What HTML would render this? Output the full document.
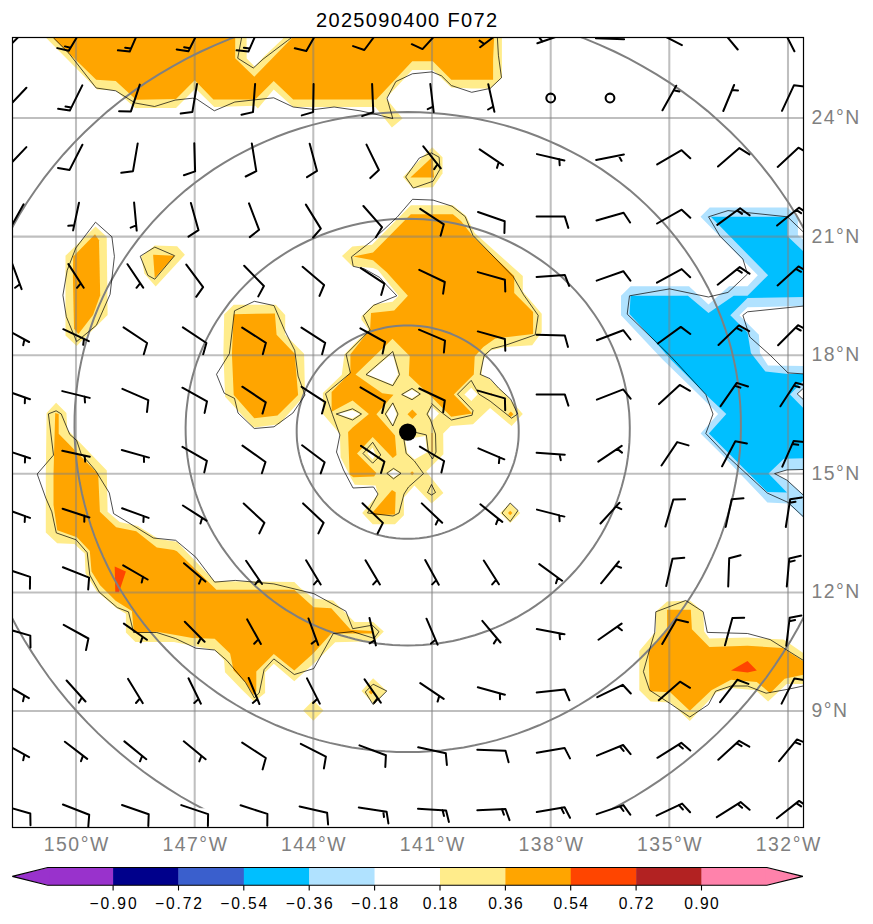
<!DOCTYPE html><html><head><meta charset="utf-8"><style>html,body{margin:0;padding:0;background:#fff}svg{display:block}text{font-family:"Liberation Sans",sans-serif}</style></head><body>
<svg width="873" height="924" viewBox="0 0 873 924">
<rect width="873" height="924" fill="#fff"/>
<defs><clipPath id="ax"><rect x="12.5" y="37.5" width="791.0" height="790.0"/></clipPath><clipPath id="ring"><rect x="0" y="0" width="873" height="808.3"/></clipPath></defs>
<g clip-path="url(#ax)">
<path d="M46.0 30.0 L46.0 37.8 L97.2 89.4 L115.7 90.4 L135.2 107.9 L176.0 107.9 L195.5 88.4 L197.0 90.0 L214.3 107.0 L255.2 105.8 L257.9 108.6 L273.7 89.5 L293.2 107.0 L311.3 107.0 L375.3 106.9 L391.9 127.4 L402.6 118.6 L386.0 98.2 L412.3 69.9 L432.8 69.9 L451.3 87.4 L471.7 88.4 L490.2 88.4 L501.9 77.7 L501.9 30.0Z" fill="#FFEC8B"/>
<path d="M403.0 177.0 L432.2 147.2 L442.5 157.2 L442.5 173.5 L433.0 187.2 L412.5 188.1Z" fill="#FFEC8B"/>
<path d="M342.0 256.0 L352.3 246.5 L372.0 244.8 L410.8 205.3 L452.9 205.3 L466.0 215.8 L474.7 233.0 L522.8 275.9 L522.8 291.4 L541.7 313.7 L541.7 332.3 L532.2 345.2 L505.6 347.0 L490.1 350.4 L483.3 359.8 L481.5 374.4 L490.1 379.6 L505.6 394.2 L522.8 414.0 L511.6 426.0 L490.1 408.0 L473.0 424.3 L450.7 426.0 L443.2 433.6 L443.4 454.3 L426.3 471.4 L443.4 493.0 L431.5 503.4 L414.4 485.5 L403.9 497.4 L403.9 515.3 L395.0 524.2 L372.7 524.2 L362.2 513.1 L377.9 494.5 L375.6 485.5 L354.8 484.8 L351.0 478.0 L340.6 457.2 L339.9 434.0 L322.9 414.0 L322.9 392.9 L341.8 374.8 L344.4 354.2 L368.4 329.3 L361.5 319.8 L361.5 316.4 L373.6 304.4 L392.5 301.8 L398.5 295.8 L377.9 270.0 L373.0 268.0 L352.3 266.3Z" fill="#FFEC8B"/>
<path d="M500.2 513.0 L510.2 503.0 L520.2 513.0 L510.2 523.0Z" fill="#FFEC8B"/>
<path d="M65.5 255.7 L95.5 226.5 L106.7 236.8 L107.6 315.0 L76.6 345.9 L65.5 335.6Z" fill="#FFEC8B"/>
<path d="M141.1 256.5 L154.8 245.4 L177.1 246.2 L184.9 254.8 L155.7 286.6 L144.5 273.7Z" fill="#FFEC8B"/>
<path d="M224.2 314.2 L233.7 304.8 L275.8 304.8 L285.2 315.1 L285.2 334.8 L304.1 353.7 L305.0 395.0 L279.2 424.2 L253.4 427.6 L225.1 396.7 L223.4 353.7Z" fill="#FFEC8B"/>
<path d="M46.6 413.0 L56.1 402.7 L66.4 413.0 L67.3 429.4 L106.8 470.6 L107.6 511.8 L119.7 522.1 L137.9 526.0 L158.6 538.9 L176.9 541.7 L214.7 581.2 L294.3 582.0 L300.1 587.8 L313.7 598.5 L333.2 600.4 L354.6 621.9 L373.1 621.9 L383.8 631.6 L374.1 641.3 L335.2 642.3 L315.7 661.8 L294.3 681.3 L273.8 663.7 L265.1 672.5 L265.1 693.0 L254.3 701.7 L242.2 690.0 L225.0 672.3 L224.1 660.3 L214.7 650.0 L192.3 645.7 L174.0 642.0 L135.4 642.0 L125.9 632.5 L125.9 613.7 L115.6 607.6 L96.7 591.3 L85.5 573.3 L84.7 553.5 L74.4 544.1 L57.2 543.2 L45.8 532.5 L45.8 474.0Z" fill="#FFEC8B"/>
<path d="M303.1 710.5 L313.3 700.3 L323.5 710.5 L313.3 720.7Z" fill="#FFEC8B"/>
<path d="M361.5 691.0 L373.1 678.3 L386.8 691.0 L374.1 704.6Z" fill="#FFEC8B"/>
<path d="M655.8 611.8 L667.1 601.5 L689.8 600.5 L703.2 611.8 L704.2 631.4 L709.4 638.6 L747.5 637.6 L783.6 639.6 L803.2 653.0 L810.0 653.0 L810.0 684.0 L786.7 684.0 L768.1 701.5 L755.8 690.2 L731.0 688.1 L716.6 692.2 L689.8 721.1 L670.2 702.5 L650.6 701.5 L639.3 690.2 L639.3 651.0 L655.8 631.4Z" fill="#FFEC8B"/>
<path d="M53.0 30.0 L53.0 37.8 L96.2 79.7 L115.7 81.0 L136.1 99.7 L176.0 99.1 L194.7 80.2 L213.4 99.5 L255.2 99.5 L273.7 81.0 L293.2 99.5 L376.3 99.5 L412.3 61.2 L432.8 61.2 L451.3 79.7 L493.1 79.7 L493.1 59.2 L494.5 30.0 L292.2 30.0 L292.2 37.8 L254.3 76.7 L235.2 58.2 L235.2 30.0Z" fill="#FFA500"/>
<path d="M410.4 177.5 L432.6 156.8 L434.0 177.5Z" fill="#FFA500"/>
<path d="M353.2 256.5 L373.0 252.5 L410.8 214.2 L452.9 214.2 L461.0 221.0 L473.0 236.4 L514.2 275.9 L514.2 293.1 L533.1 312.0 L533.1 334.0 L495.3 338.4 L483.3 346.9 L474.7 356.4 L473.8 374.4 L453.8 394.5 L472.3 413.6 L451.2 416.7 L431.1 396.6 L408.9 375.5 L409.7 355.9 L392.5 338.7 L355.5 374.6 L382.3 393.2 L393.5 394.7 L376.4 414.3 L395.0 435.6 L396.5 455.0 L392.8 458.0 L372.7 437.1 L357.0 453.5 L376.4 472.9 L374.1 476.6 L353.3 477.3 L349.6 474.4 L348.1 431.9 L352.6 427.4 L368.9 414.0 L352.6 400.6 L331.6 411.8 L331.6 392.0 L350.4 372.5 L350.4 354.2 L370.1 329.3 L371.0 313.0 L394.2 310.4 L407.9 295.8 L386.7 272.3 L373.0 260.3Z" fill="#FFA500"/>
<path d="M372.7 512.3 L392.0 490.0 L395.7 492.2 L395.0 514.6 L374.1 515.3Z" fill="#FFA500"/>
<path d="M407.5 414.3 L412.3 409.5 L417.1 414.3 L412.3 419.1Z" fill="#FFA500"/>
<path d="M508.1 414.3 L510.8 411.6 L513.5 414.3 L510.8 417.0Z" fill="#FFA500"/>
<path d="M410.1 473.3 L412.1 471.3 L414.1 473.3 L412.1 475.3Z" fill="#FFA500"/>
<path d="M490.1 394.2 L491.3 393.0 L492.5 394.2 L491.3 395.4Z" fill="#FFA500"/>
<path d="M508.0 513.0 L510.2 510.8 L512.4 513.0 L510.2 515.2Z" fill="#FFA500"/>
<path d="M368.6 692.0 L371.2 689.4 L373.8 692.0 L371.2 694.6Z" fill="#FFA500"/>
<path d="M431.3 433.0 L432.8 433.0 L432.8 452.0 L431.3 452.0Z" fill="#FFA500"/>
<path d="M73.2 256.5 L95.0 234.2 L99.0 240.2 L100.2 295.2 L93.0 315.0 L78.4 333.9 L74.0 328.7 L72.9 277.2Z" fill="#FFA500"/>
<path d="M153.1 254.8 L174.6 255.7 L154.8 278.0Z" fill="#FFA500"/>
<path d="M233.7 314.2 L274.9 313.4 L276.6 334.8 L294.7 353.7 L298.1 395.0 L277.5 415.6 L254.3 418.2 L233.7 395.0 L231.9 353.7Z" fill="#FFA500"/>
<path d="M55.2 413.0 L58.7 413.9 L58.7 433.7 L98.2 474.0 L99.9 511.8 L116.2 527.3 L136.2 531.2 L156.8 547.5 L174.0 550.0 L176.9 551.2 L216.4 589.8 L294.3 589.7 L313.7 607.3 L331.3 608.2 L350.7 629.7 L372.2 631.0 L372.2 633.6 L331.3 633.6 L313.7 653.0 L294.3 670.6 L273.8 654.0 L256.3 671.5 L256.3 691.0 L253.4 694.9 L245.6 682.6 L233.6 670.6 L230.1 653.4 L214.7 638.8 L192.3 638.0 L175.7 635.1 L156.8 631.7 L137.9 632.5 L133.6 630.0 L131.9 611.1 L115.6 600.8 L100.1 585.3 L91.5 571.5 L89.8 550.9 L76.9 537.2 L57.2 530.3 L53.5 505.0 L53.5 474.0Z" fill="#FFA500"/>
<path d="M667.1 609.7 L690.8 609.7 L691.9 629.3 L709.4 646.9 L747.5 645.8 L782.6 647.9 L803.2 661.3 L810.0 661.3 L810.0 674.7 L803.2 674.7 L784.6 678.8 L770.2 693.2 L756.8 681.9 L731.0 679.8 L711.4 690.2 L689.8 710.8 L670.2 692.2 L649.6 691.2 L648.6 651.0 L667.1 629.3Z" fill="#FFA500"/>
<path d="M114.7 566.4 L125.9 571.5 L119.0 592.2 L115.3 592.2Z" fill="#FF4500"/>
<path d="M731.0 670.6 L747.5 660.9 L756.8 670.6 L747.5 672.6Z" fill="#FF4500"/>
<path d="M709.7 207.6 L787.5 207.6 L797.9 217.9 L797.9 235.1 L810.0 246.0 L810.0 525.0 L803.4 517.8 L788.0 503.4 L767.4 502.4 L722.2 455.1 L700.6 433.5 L718.1 414.0 L699.6 395.5 L662.6 359.5 L648.9 345.1 L621.0 315.3 L621.0 295.8 L630.6 286.2 L689.0 286.2 L708.5 304.5 L729.1 286.2 L747.5 286.2 L757.8 275.2 L700.5 216.8Z" fill="#B0E2FF"/>
<path d="M710.8 216.8 L787.5 216.8 L787.5 236.2 L803.0 251.1 L810.0 251.1 L810.0 297.0 L747.5 298.1 L730.3 315.3 L747.5 332.5 L750.9 353.1 L765.4 371.5 L788.0 373.9 L810.0 373.9 L810.0 381.1 L803.0 381.1 L790.0 394.5 L803.0 407.8 L810.0 407.8 L810.0 458.2 L783.9 458.8 L768.5 473.6 L787.0 492.5 L767.4 492.1 L728.4 453.1 L708.9 433.5 L726.3 414.0 L707.8 396.5 L670.8 359.5 L658.1 345.1 L629.5 314.1 L630.6 295.8 L687.9 295.8 L708.5 313.0 L733.7 295.8 L747.5 295.8 L768.1 275.2Z" fill="#00BFFF"/>
<path d="M246.5 31.0 L246.7 58.4 L254.8 66.7 L263.0 57.4 L283.1 38.4 L283.3 30.9Z" fill="#FFFFFF"/>
<path d="M367.4 374.4 L392.5 352.9 L398.1 374.2 L392.3 384.4Z" fill="#FFFFFF"/>
<path d="M403.1 394.4 L411.9 389.8 L418.9 394.0 L411.9 398.3Z" fill="#FFFFFF"/>
<path d="M337.6 414.0 L352.1 410.2 L360.1 414.0 L352.2 418.6Z" fill="#FFFFFF"/>
<path d="M386.7 414.0 L392.7 404.3 L396.6 414.1 L392.7 424.6Z" fill="#FFFFFF"/>
<path d="M428.4 414.0 L431.8 406.8 L439.0 413.6 L432.7 420.5Z" fill="#FFFFFF"/>
<path d="M464.4 394.5 L471.3 387.7 L477.6 394.5 L471.3 400.9Z" fill="#FFFFFF"/>
<path d="M405.1 440.1 L414.6 437.8 L425.3 435.9 L427.2 452.2 L414.5 459.6 L407.3 452.6Z" fill="#FFFFFF"/>
<path d="M367.4 453.6 L372.6 447.4 L375.7 454.7 L372.6 459.6Z" fill="#FFFFFF"/>
<path d="M388.2 473.3 L393.6 469.8 L399.6 473.3 L393.6 477.4Z" fill="#FFFFFF"/>
<path d="M810.0 306.0 L747.5 307.3 L739.4 315.3 L758.9 334.7 L760.0 353.1 L768.0 365.5 L810.0 366.0Z" fill="#FFFFFF"/>
<path d="M810.0 388.3 L803.0 388.3 L797.2 393.9 L803.0 399.6 L810.0 399.6Z" fill="#FFFFFF"/>
<path d="M774.6 473.6 L787.0 469.9 L810.0 469.9 L810.0 494.2 L803.0 494.2 L787.0 480.2Z" fill="#FFFFFF"/>
<line x1="76.0" y1="37.5" x2="76.0" y2="827.5" stroke="#808080" stroke-width="2.05" stroke-opacity="0.5"/>
<line x1="194.7" y1="37.5" x2="194.7" y2="827.5" stroke="#808080" stroke-width="2.05" stroke-opacity="0.5"/>
<line x1="313.3" y1="37.5" x2="313.3" y2="827.5" stroke="#808080" stroke-width="2.05" stroke-opacity="0.5"/>
<line x1="432.0" y1="37.5" x2="432.0" y2="827.5" stroke="#808080" stroke-width="2.05" stroke-opacity="0.5"/>
<line x1="550.7" y1="37.5" x2="550.7" y2="827.5" stroke="#808080" stroke-width="2.05" stroke-opacity="0.5"/>
<line x1="669.3" y1="37.5" x2="669.3" y2="827.5" stroke="#808080" stroke-width="2.05" stroke-opacity="0.5"/>
<line x1="788.0" y1="37.5" x2="788.0" y2="827.5" stroke="#808080" stroke-width="2.05" stroke-opacity="0.5"/>
<line x1="12.5" y1="711.0" x2="803.5" y2="711.0" stroke="#808080" stroke-width="2.05" stroke-opacity="0.5"/>
<line x1="12.5" y1="592.4" x2="803.5" y2="592.4" stroke="#808080" stroke-width="2.05" stroke-opacity="0.5"/>
<line x1="12.5" y1="473.8" x2="803.5" y2="473.8" stroke="#808080" stroke-width="2.05" stroke-opacity="0.5"/>
<line x1="12.5" y1="355.2" x2="803.5" y2="355.2" stroke="#808080" stroke-width="2.05" stroke-opacity="0.5"/>
<line x1="12.5" y1="236.6" x2="803.5" y2="236.6" stroke="#808080" stroke-width="2.05" stroke-opacity="0.5"/>
<line x1="12.5" y1="118.0" x2="803.5" y2="118.0" stroke="#808080" stroke-width="2.05" stroke-opacity="0.5"/>
<path d="M407.7 325.4 L411.6 325.5 L415.6 325.7 L419.5 326.0 L423.4 326.5 L427.3 327.1 L431.1 327.8 L434.9 328.7 L438.7 329.6 L442.5 330.7 L446.2 332.0 L449.9 333.3 L453.5 334.8 L457.0 336.4 L460.5 338.1 L463.9 339.9 L467.3 341.9 L470.5 343.9 L473.7 346.1 L476.8 348.3 L479.9 350.7 L482.8 353.2 L485.6 355.7 L488.4 358.4 L491.0 361.1 L493.5 364.0 L496.0 366.9 L498.3 369.9 L500.5 373.0 L502.6 376.1 L504.5 379.3 L506.4 382.6 L508.1 385.9 L509.7 389.3 L511.2 392.8 L512.5 396.3 L513.8 399.8 L514.8 403.4 L515.8 407.0 L516.6 410.6 L517.3 414.3 L517.9 418.0 L518.3 421.7 L518.6 425.4 L518.7 429.1 L518.7 432.8 L518.6 436.5 L518.4 440.3 L518.0 444.0 L517.5 447.6 L516.8 451.3 L516.0 455.0 L515.1 458.6 L514.1 462.2 L512.9 465.7 L511.6 469.2 L510.2 472.7 L508.6 476.1 L506.9 479.4 L505.1 482.7 L503.2 486.0 L501.2 489.1 L499.1 492.2 L496.9 495.2 L494.5 498.2 L492.1 501.1 L489.5 503.8 L486.9 506.5 L484.1 509.2 L481.3 511.7 L478.4 514.1 L475.4 516.4 L472.3 518.6 L469.1 520.7 L465.9 522.7 L462.6 524.6 L459.2 526.4 L455.8 528.1 L452.3 529.6 L448.8 531.1 L445.2 532.4 L441.6 533.6 L437.9 534.7 L434.2 535.6 L430.5 536.5 L426.7 537.2 L423.0 537.7 L419.2 538.2 L415.3 538.5 L411.5 538.7 L407.7 538.8 L403.9 538.7 L400.1 538.5 L396.2 538.2 L392.4 537.7 L388.7 537.2 L384.9 536.5 L381.2 535.6 L377.5 534.7 L373.8 533.6 L370.2 532.4 L366.6 531.1 L363.1 529.6 L359.6 528.1 L356.2 526.4 L352.8 524.6 L349.5 522.7 L346.3 520.7 L343.1 518.6 L340.0 516.4 L337.0 514.1 L334.1 511.7 L331.3 509.2 L328.5 506.5 L325.9 503.8 L323.3 501.1 L320.9 498.2 L318.5 495.2 L316.3 492.2 L314.2 489.1 L312.2 486.0 L310.3 482.7 L308.5 479.4 L306.8 476.1 L305.2 472.7 L303.8 469.2 L302.5 465.7 L301.3 462.2 L300.3 458.6 L299.4 455.0 L298.6 451.3 L297.9 447.6 L297.4 444.0 L297.0 440.3 L296.8 436.5 L296.7 432.8 L296.7 429.1 L296.8 425.4 L297.1 421.7 L297.5 418.0 L298.1 414.3 L298.8 410.6 L299.6 407.0 L300.6 403.4 L301.6 399.8 L302.9 396.3 L304.2 392.8 L305.7 389.3 L307.3 385.9 L309.0 382.6 L310.9 379.3 L312.8 376.1 L314.9 373.0 L317.1 369.9 L319.4 366.9 L321.9 364.0 L324.4 361.1 L327.0 358.4 L329.8 355.7 L332.6 353.2 L335.5 350.7 L338.6 348.3 L341.7 346.1 L344.9 343.9 L348.1 341.9 L351.5 339.9 L354.9 338.1 L358.4 336.4 L361.9 334.8 L365.5 333.3 L369.2 332.0 L372.9 330.7 L376.7 329.6 L380.5 328.7 L384.3 327.8 L388.1 327.1 L392.0 326.5 L395.9 326.0 L399.8 325.7 L403.8 325.5 L407.7 325.4Z" fill="none" stroke="#808080" stroke-width="2.0" clip-path="url(#ring)"/>
<path d="M407.7 218.8 L415.7 218.9 L423.7 219.3 L431.6 220.0 L439.6 220.9 L447.4 222.1 L455.3 223.6 L463.0 225.3 L470.7 227.3 L478.3 229.5 L485.9 232.0 L493.3 234.8 L500.6 237.8 L507.7 241.0 L514.8 244.5 L521.7 248.2 L528.4 252.1 L535.0 256.3 L541.4 260.6 L547.7 265.2 L553.7 270.0 L559.6 275.0 L565.3 280.2 L570.7 285.6 L576.0 291.1 L581.0 296.8 L585.9 302.7 L590.4 308.8 L594.8 315.0 L598.9 321.3 L602.8 327.8 L606.4 334.4 L609.8 341.1 L612.9 347.9 L615.8 354.8 L618.4 361.8 L620.7 368.9 L622.8 376.1 L624.6 383.3 L626.2 390.6 L627.4 397.9 L628.4 405.3 L629.2 412.7 L629.6 420.1 L629.8 427.6 L629.7 435.0 L629.4 442.4 L628.8 449.8 L627.9 457.2 L626.8 464.6 L625.4 471.9 L623.7 479.1 L621.8 486.3 L619.6 493.5 L617.2 500.5 L614.5 507.5 L611.6 514.4 L608.5 521.1 L605.1 527.8 L601.4 534.4 L597.6 540.8 L593.5 547.1 L589.2 553.2 L584.7 559.2 L580.0 565.1 L575.1 570.8 L570.0 576.3 L564.7 581.6 L559.3 586.8 L553.6 591.8 L547.8 596.6 L541.8 601.2 L535.7 605.6 L529.4 609.8 L523.0 613.7 L516.4 617.5 L509.8 621.0 L503.0 624.3 L496.1 627.4 L489.1 630.2 L482.0 632.8 L474.8 635.2 L467.5 637.3 L460.2 639.2 L452.8 640.9 L445.4 642.3 L437.9 643.4 L430.4 644.3 L422.8 644.9 L415.3 645.3 L407.7 645.4 L400.1 645.3 L392.6 644.9 L385.0 644.3 L377.5 643.4 L370.0 642.3 L362.6 640.9 L355.2 639.2 L347.9 637.3 L340.6 635.2 L333.4 632.8 L326.3 630.2 L319.3 627.4 L312.4 624.3 L305.6 621.0 L299.0 617.5 L292.4 613.7 L286.0 609.8 L279.7 605.6 L273.6 601.2 L267.6 596.6 L261.8 591.8 L256.1 586.8 L250.7 581.6 L245.4 576.3 L240.3 570.8 L235.4 565.1 L230.7 559.2 L226.2 553.2 L221.9 547.1 L217.8 540.8 L214.0 534.4 L210.3 527.8 L206.9 521.1 L203.8 514.4 L200.9 507.5 L198.2 500.5 L195.8 493.5 L193.6 486.3 L191.7 479.1 L190.0 471.9 L188.6 464.6 L187.5 457.2 L186.6 449.8 L186.0 442.4 L185.7 435.0 L185.6 427.6 L185.8 420.1 L186.2 412.7 L187.0 405.3 L188.0 397.9 L189.2 390.6 L190.8 383.3 L192.6 376.1 L194.7 368.9 L197.0 361.8 L199.6 354.8 L202.5 347.9 L205.6 341.1 L209.0 334.4 L212.6 327.8 L216.5 321.3 L220.6 315.0 L225.0 308.8 L229.5 302.7 L234.4 296.8 L239.4 291.1 L244.7 285.6 L250.1 280.2 L255.8 275.0 L261.7 270.0 L267.7 265.2 L274.0 260.6 L280.4 256.3 L287.0 252.1 L293.7 248.2 L300.6 244.5 L307.7 241.0 L314.8 237.8 L322.1 234.8 L329.5 232.0 L337.1 229.5 L344.7 227.3 L352.4 225.3 L360.1 223.6 L368.0 222.1 L375.8 220.9 L383.8 220.0 L391.7 219.3 L399.7 218.9 L407.7 218.8Z" fill="none" stroke="#808080" stroke-width="2.0" clip-path="url(#ring)"/>
<path d="M407.7 112.1 L419.9 112.3 L432.1 112.9 L444.2 114.0 L456.3 115.4 L468.4 117.2 L480.3 119.5 L492.2 122.1 L503.9 125.1 L515.5 128.5 L526.9 132.3 L538.2 136.5 L549.2 141.1 L560.1 146.0 L570.8 151.3 L581.2 156.9 L591.4 162.9 L601.4 169.2 L611.0 175.9 L620.4 182.8 L629.6 190.1 L638.4 197.7 L646.9 205.6 L655.0 213.7 L662.9 222.1 L670.4 230.8 L677.5 239.7 L684.3 248.8 L690.8 258.2 L696.9 267.7 L702.5 277.5 L707.9 287.4 L712.8 297.6 L717.3 307.8 L721.5 318.3 L725.2 328.8 L728.6 339.5 L731.6 350.2 L734.1 361.1 L736.3 372.1 L738.0 383.1 L739.3 394.1 L740.3 405.2 L740.8 416.3 L740.9 427.5 L740.7 438.6 L740.0 449.7 L738.9 460.8 L737.5 471.8 L735.6 482.8 L733.4 493.7 L730.8 504.6 L727.8 515.3 L724.4 526.0 L720.7 536.5 L716.6 546.9 L712.1 557.1 L707.3 567.2 L702.2 577.2 L696.7 586.9 L690.8 596.5 L684.7 605.8 L678.2 615.0 L671.5 623.9 L664.4 632.6 L657.0 641.1 L649.4 649.3 L641.5 657.3 L633.3 665.0 L624.8 672.4 L616.1 679.5 L607.2 686.3 L598.1 692.9 L588.7 699.1 L579.1 705.0 L569.4 710.6 L559.4 715.8 L549.3 720.7 L539.1 725.3 L528.6 729.5 L518.1 733.4 L507.4 736.9 L496.6 740.1 L485.7 742.9 L474.7 745.3 L463.7 747.4 L452.6 749.1 L441.4 750.4 L430.2 751.3 L418.9 751.9 L407.7 752.1 L396.5 751.9 L385.2 751.3 L374.0 750.4 L362.8 749.1 L351.7 747.4 L340.7 745.3 L329.7 742.9 L318.8 740.1 L308.0 736.9 L297.3 733.4 L286.8 729.5 L276.3 725.3 L266.1 720.7 L256.0 715.8 L246.0 710.6 L236.3 705.0 L226.7 699.1 L217.3 692.9 L208.2 686.3 L199.3 679.5 L190.6 672.4 L182.1 665.0 L173.9 657.3 L166.0 649.3 L158.4 641.1 L151.0 632.6 L143.9 623.9 L137.2 615.0 L130.7 605.8 L124.6 596.5 L118.7 586.9 L113.2 577.2 L108.1 567.2 L103.3 557.1 L98.8 546.9 L94.7 536.5 L91.0 526.0 L87.6 515.3 L84.6 504.6 L82.0 493.7 L79.8 482.8 L77.9 471.8 L76.5 460.8 L75.4 449.7 L74.7 438.6 L74.5 427.5 L74.6 416.3 L75.1 405.2 L76.1 394.1 L77.4 383.1 L79.1 372.1 L81.3 361.1 L83.8 350.2 L86.8 339.5 L90.2 328.8 L93.9 318.3 L98.1 307.8 L102.6 297.6 L107.5 287.4 L112.9 277.5 L118.5 267.7 L124.6 258.2 L131.1 248.8 L137.9 239.7 L145.0 230.8 L152.5 222.1 L160.4 213.7 L168.5 205.6 L177.0 197.7 L185.8 190.1 L195.0 182.8 L204.4 175.9 L214.0 169.2 L224.0 162.9 L234.2 156.9 L244.6 151.3 L255.3 146.0 L266.2 141.1 L277.2 136.5 L288.5 132.3 L299.9 128.5 L311.5 125.1 L323.2 122.1 L335.1 119.5 L347.0 117.2 L359.1 115.4 L371.2 114.0 L383.3 112.9 L395.5 112.3 L407.7 112.1Z" fill="none" stroke="#808080" stroke-width="2.0" clip-path="url(#ring)"/>
<path d="M407.7 5.5 L424.3 5.7 L440.9 6.6 L457.4 8.0 L473.8 9.9 L490.2 12.4 L506.4 15.4 L522.5 19.0 L538.4 23.1 L554.1 27.8 L569.5 32.9 L584.8 38.6 L599.7 44.8 L614.4 51.5 L628.8 58.6 L642.8 66.3 L656.5 74.4 L669.9 82.9 L682.8 91.9 L695.4 101.3 L707.6 111.1 L719.3 121.4 L730.6 132.0 L741.4 142.9 L751.8 154.2 L761.7 165.9 L771.2 177.9 L780.1 190.2 L788.6 202.7 L796.5 215.6 L803.9 228.7 L810.8 242.0 L817.2 255.6 L823.0 269.3 L828.3 283.2 L833.1 297.3 L837.4 311.6 L841.1 326.0 L844.3 340.5 L846.9 355.1 L849.0 369.7 L850.6 384.5 L851.6 399.2 L852.1 414.0 L852.0 428.8 L851.5 443.6 L850.4 458.4 L848.8 473.1 L846.7 487.8 L844.0 502.4 L840.9 516.8 L837.2 531.2 L833.1 545.5 L828.5 559.6 L823.4 573.5 L817.8 587.3 L811.8 600.9 L805.3 614.2 L798.3 627.4 L791.0 640.3 L783.1 652.9 L774.9 665.3 L766.3 677.5 L757.2 689.3 L747.8 700.8 L738.0 712.0 L727.8 722.9 L717.3 733.4 L706.4 743.5 L695.2 753.3 L683.6 762.8 L671.8 771.8 L659.7 780.4 L647.2 788.6 L634.6 796.5 L621.6 803.8 L608.5 810.8 L595.1 817.3 L581.5 823.3 L567.7 828.9 L553.7 834.0 L539.6 838.7 L525.3 842.9 L510.9 846.6 L496.4 849.8 L481.7 852.5 L467.0 854.8 L452.3 856.5 L437.4 857.7 L422.6 858.5 L407.7 858.7 L392.8 858.5 L378.0 857.7 L363.1 856.5 L348.4 854.8 L333.7 852.5 L319.0 849.8 L304.5 846.6 L290.1 842.9 L275.8 838.7 L261.7 834.0 L247.7 828.9 L233.9 823.3 L220.3 817.3 L206.9 810.8 L193.8 803.8 L180.8 796.5 L168.2 788.6 L155.7 780.4 L143.6 771.8 L131.8 762.8 L120.2 753.3 L109.0 743.5 L98.1 733.4 L87.6 722.9 L77.4 712.0 L67.6 700.8 L58.2 689.3 L49.1 677.5 L40.5 665.3 L32.3 652.9 L24.4 640.3 L17.1 627.4 L10.1 614.2 L3.6 600.9 L-2.4 587.3 L-8.0 573.5 L-13.1 559.6 L-17.7 545.5 L-21.8 531.2 L-25.5 516.8 L-28.6 502.4 L-31.3 487.8 L-33.4 473.1 L-35.0 458.4 L-36.1 443.6 L-36.6 428.8 L-36.7 414.0 L-36.2 399.2 L-35.2 384.5 L-33.6 369.7 L-31.5 355.1 L-28.9 340.5 L-25.7 326.0 L-22.0 311.6 L-17.7 297.3 L-12.9 283.2 L-7.6 269.3 L-1.8 255.6 L4.6 242.0 L11.5 228.7 L18.9 215.6 L26.8 202.7 L35.3 190.2 L44.2 177.9 L53.7 165.9 L63.6 154.2 L74.0 142.9 L84.8 132.0 L96.1 121.4 L107.8 111.1 L120.0 101.3 L132.6 91.9 L145.5 82.9 L158.9 74.4 L172.6 66.3 L186.6 58.6 L201.0 51.5 L215.7 44.8 L230.6 38.6 L245.9 32.9 L261.3 27.8 L277.0 23.1 L292.9 19.0 L309.0 15.4 L325.2 12.4 L341.6 9.9 L358.0 8.0 L374.5 6.6 L391.1 5.7 L407.7 5.5Z" fill="none" stroke="#808080" stroke-width="2.0" clip-path="url(#ring)"/>
<path d="M53.4 37.8 L69.0 53.4 L96.2 88.0 L115.7 90.8 L135.2 103.0 L154.6 106.5 L175.1 100.1 L192.6 98.2 L196.8 99.1 L214.3 110.8 L234.8 102.0 L273.7 97.8 L293.2 107.0 L314.6 109.5 L334.1 107.0 L360.0 110.8 L373.4 113.7 L392.8 118.6 L387.0 98.2 L395.8 81.6 L412.3 73.8 L431.8 71.9 L441.5 75.8 L451.3 85.5 L471.7 92.3 L490.2 88.4 L501.5 77.7 L498.4 55.3 L497.4 37.8" fill="none" stroke="#000" stroke-width="0.7" stroke-linejoin="round"/>
<path d="M241.6 37.8 L237.7 58.2 L253.3 68.0 L263.0 59.2 L287.4 40.7 L291.3 37.8" fill="none" stroke="#000" stroke-width="0.7" stroke-linejoin="round"/>
<path d="M405.6 177.0 L419.3 158.0 L431.4 152.9 L439.1 157.2 L440.0 169.2 L433.1 181.2 L413.3 188.1 L405.6 177.0" fill="none" stroke="#000" stroke-width="0.7" stroke-linejoin="round"/>
<path d="M412.5 199.3 L433.1 200.1 L452.0 206.2 L465.2 216.6 L473.0 235.5 L513.3 276.8 L523.6 294.8 L538.2 315.4 L535.2 334.9 L505.6 345.2 L491.9 348.7 L484.1 355.5 L480.2 374.4 L490.1 378.7 L498.7 388.2 L510.8 399.3 L517.6 414.0 L511.6 418.2 L490.1 401.1 L479.0 394.2 L471.2 380.4 L457.5 394.2 L473.0 410.5 L472.1 415.2 L451.5 420.0 L440.3 411.4 L431.6 403.5" fill="none" stroke="#000" stroke-width="0.7" stroke-linejoin="round"/>
<path d="M412.5 199.3 L397.0 217.3 L371.2 241.4 L351.5 256.8 L353.2 266.3 L364.4 268.9 L379.8 277.5 L385.8 284.3 L396.8 295.8 L373.6 305.3 L363.3 315.6 L370.1 330.1 L346.1 354.2 L350.4 373.1 L325.5 393.7 L332.4 414.3 L339.9 435.0 L336.5 452.0 L343.5 470.0 L353.0 488.0 L373.5 487.0 L378.0 494.0 L367.5 513.0 L393.0 516.0 L399.0 513.0 L404.0 494.0 L408.5 487.0 L423.5 473.6 L414.4 461.0 L406.2 453.5 L403.9 439.4" fill="none" stroke="#000" stroke-width="0.7" stroke-linejoin="round"/>
<path d="M366.0 374.6 L392.8 351.5 L399.5 374.6 L392.8 385.7 L366.0 374.6" fill="none" stroke="#000" stroke-width="0.7" stroke-linejoin="round"/>
<path d="M401.7 394.5 L412.0 388.4 L420.3 394.0 L412.0 399.7 L401.7 394.5" fill="none" stroke="#000" stroke-width="0.7" stroke-linejoin="round"/>
<path d="M336.2 414.0 L352.6 408.8 L361.5 414.0 L352.6 420.0 L336.2 414.0" fill="none" stroke="#000" stroke-width="0.7" stroke-linejoin="round"/>
<path d="M385.3 414.0 L392.8 402.9 L398.0 414.0 L392.8 426.0 L385.3 414.0" fill="none" stroke="#000" stroke-width="0.7" stroke-linejoin="round"/>
<path d="M363.0 453.5 L372.7 442.3 L380.8 455.0 L372.7 463.2 L363.0 453.5" fill="none" stroke="#000" stroke-width="0.7" stroke-linejoin="round"/>
<path d="M386.8 473.3 L393.5 468.4 L401.0 473.3 L393.5 478.8 L386.8 473.3" fill="none" stroke="#000" stroke-width="0.7" stroke-linejoin="round"/>
<path d="M416.0 432.5 L426.3 434.9 L428.5 452.8 L432.5 459.0 L436.0 452.0 L435.5 434.0 L430.5 420.0 L427.0 414.1 L431.6 405.4" fill="none" stroke="#000" stroke-width="0.7" stroke-linejoin="round"/>
<path d="M427.5 492.5 L431.5 484.5 L435.5 492.5 L431.5 495.0 L427.5 492.5" fill="none" stroke="#000" stroke-width="0.7" stroke-linejoin="round"/>
<path d="M502.0 513.0 L510.2 503.0 L518.0 510.5 L510.2 521.5 L502.0 513.0" fill="none" stroke="#000" stroke-width="0.7" stroke-linejoin="round"/>
<path d="M95.5 222.2 L111.9 236.8 L114.4 256.5 L110.1 294.3 L96.4 325.3 L76.6 341.6 L66.3 316.7 L62.9 295.2 L67.2 270.3 L75.8 248.0 L95.5 222.2" fill="none" stroke="#000" stroke-width="0.7" stroke-linejoin="round"/>
<path d="M140.2 256.2 L154.8 247.1 L174.6 255.7 L154.8 279.2 L147.9 275.4 L140.2 256.2" fill="none" stroke="#000" stroke-width="0.7" stroke-linejoin="round"/>
<path d="M234.5 310.8 L254.3 301.3 L274.0 305.6 L284.3 329.7 L294.7 350.3 L298.1 376.1 L305.0 395.0 L292.9 413.0 L274.0 426.8 L254.3 428.5 L238.0 413.0 L234.5 398.4 L224.2 393.2 L216.5 374.3 L229.4 353.7 L234.5 310.8" fill="none" stroke="#000" stroke-width="0.7" stroke-linejoin="round"/>
<path d="M48.4 413.9 L56.1 410.8 L61.2 413.9 L69.8 434.5 L76.7 440.5 L81.0 453.4 L95.6 470.6 L109.3 492.9 L113.6 513.6 L124.2 520.0 L153.4 538.0 L175.7 540.3 L195.8 557.2 L214.7 582.1 L235.3 580.4 L273.8 583.9 L313.7 593.6 L345.9 611.2 L352.7 628.7 L372.2 625.2 L379.0 631.6 L374.1 638.4 L352.7 631.6 L333.2 633.6 L313.7 668.6 L294.3 674.5 L273.8 658.9 L264.1 669.6 L259.2 693.0 L254.3 697.8 L245.6 682.6 L226.7 660.3 L214.7 650.0 L195.8 648.2 L175.7 638.6 L156.8 632.5 L133.6 632.5 L128.5 611.9 L117.3 607.6 L99.3 592.2 L89.8 575.0 L87.2 552.6 L76.1 539.8 L56.3 532.9 L51.8 511.8 L45.8 498.1 L37.2 474.0 L53.5 455.1 L48.4 413.9" fill="none" stroke="#000" stroke-width="0.7" stroke-linejoin="round"/>
<path d="M365.3 692.0 L373.1 684.2 L386.8 691.0 L373.1 704.6 L365.3 692.0" fill="none" stroke="#000" stroke-width="0.7" stroke-linejoin="round"/>
<path d="M803.2 660.3 L770.2 639.6 L747.5 633.5 L707.3 632.4 L703.2 611.8 L685.7 600.5 L655.8 611.8 L654.7 632.4 L648.6 653.0 L643.4 671.6 L649.6 690.2 L670.2 703.6 L689.8 717.0 L708.4 704.6 L715.6 691.2 L731.0 686.0 L747.5 686.0 L766.1 693.2 L788.8 689.1 L803.2 686.0" fill="none" stroke="#000" stroke-width="0.7" stroke-linejoin="round"/>
<path d="M803.0 231.7 L787.5 216.8 L728.0 210.6 L708.5 216.8 L720.0 236.2 L742.9 259.1 L747.5 274.0 L728.0 292.4 L708.5 297.0 L669.6 288.9 L629.5 295.8 L627.2 314.1 L658.1 343.9 L670.8 356.4 L705.8 394.5 L713.0 414.0 L705.8 433.5 L728.4 457.2 L767.4 493.1 L788.0 502.4 L803.4 516.8" fill="none" stroke="#000" stroke-width="0.7" stroke-linejoin="round"/>
<path d="M803.0 306.1 L747.5 311.8 L742.9 315.3 L749.8 337.0 L770.4 355.4 L788.0 372.9 L803.4 373.9" fill="none" stroke="#000" stroke-width="0.7" stroke-linejoin="round"/>
<path d="M803.4 388.3 L797.2 393.9 L803.4 399.6" fill="none" stroke="#000" stroke-width="0.7" stroke-linejoin="round"/>
<path d="M803.4 469.5 L787.0 469.9 L774.6 473.6 L787.0 480.2 L803.4 495.2" fill="none" stroke="#000" stroke-width="0.7" stroke-linejoin="round"/>
<path d="M26.7 28.7L6.7 48.7L-3.7 43.2M9.2 46.2L4.0 43.4M83.2 26.6L68.8 50.8L57.3 48.1M70.6 47.8L64.9 46.4M141.0 25.8L129.7 51.6L117.9 50.3M131.1 48.4L125.2 47.7M201.0 26.1L188.4 51.3L176.7 49.4M190.0 48.2L184.1 47.2M259.7 25.8L248.4 51.6L236.6 50.3M249.8 48.4L243.9 47.7M320.4 26.5L306.3 50.9L294.8 48.3M381.1 27.4L364.3 50.0L353.1 46.1M441.5 28.3L422.5 49.1L411.8 44.2M502.6 30.2L480.1 47.2M484.3 44.0L479.5 40.6M564.0 34.1L537.4 43.3M542.4 41.6L538.9 36.8M624.1 39.2L595.9 38.2M601.2 38.4L599.7 32.7M681.9 45.1L656.8 32.3M661.5 34.7L662.5 28.9M737.7 49.5L719.7 27.9M723.1 31.9L726.3 27.0M794.4 51.3L781.6 26.1M784.0 30.8L788.3 26.7M26.4 87.8L7.0 108.2L-3.6 103.0M9.4 105.7L4.1 103.1M82.3 85.4L69.8 110.6L58.1 108.8M71.3 107.5L65.5 106.6M139.8 84.6L130.9 111.4L119.1 111.2M197.0 84.1L192.4 111.9L180.7 113.6M255.1 83.9L253.0 112.1L241.5 114.8M313.6 83.9L313.1 112.1L301.8 115.4M372.1 83.9L373.3 112.1L362.2 116.1M430.3 84.0L433.7 112.0M433.1 106.7L427.7 109.2M488.3 84.2L494.4 111.8M493.2 106.6L488.1 109.5M662.5 110.3L676.2 85.7M673.7 90.3L679.4 91.5M723.3 111.0L734.1 85.0M732.1 89.9L738.0 90.4M782.0 110.8L794.0 85.2L805.7 86.8M26.4 147.1L7.0 167.5L-3.6 162.3M82.4 144.7L69.6 169.9L58.0 167.9M137.7 143.4L133.0 171.2L121.3 172.8M194.3 143.2L195.1 171.4L183.9 175.2M251.8 143.4L256.3 171.2L245.7 176.5M309.7 143.7L317.0 170.9L307.0 177.2M366.5 144.6L378.9 170.0L370.3 178.1M423.3 146.3L440.8 168.3M437.5 164.2L434.2 169.1M479.7 149.4L503.0 165.2M498.7 162.2L497.0 167.9M537.0 154.1L564.4 160.5M559.3 159.3L559.7 165.2M596.2 160.1L623.9 154.5M618.7 155.6L621.5 160.8M657.2 164.4L681.6 150.2L690.3 158.2M718.0 166.5L739.4 148.1L749.4 154.4M777.7 166.9L798.4 147.7L808.6 153.6M23.6 204.3L9.8 228.9L-1.8 226.4M79.0 202.8L73.1 230.4M74.2 225.2L68.3 225.8M134.1 202.6L136.7 230.6M136.2 225.4L130.7 227.6M190.9 203.0L198.5 230.2L188.5 236.6M249.0 203.4L259.1 229.8L249.8 237.1M305.9 204.6L320.8 228.6L313.1 237.5M363.4 206.0L382.0 227.2L375.9 237.3M420.2 208.9L443.8 224.3L440.6 235.7M478.0 212.0L504.7 221.2L504.4 233.0M536.6 216.6L564.8 216.6L568.3 227.9M596.5 220.5L623.6 212.7L630.1 222.5M657.1 223.5L681.7 209.7L690.3 217.8M717.3 224.9L740.1 208.3L749.6 215.3M737.2 210.4L742.0 213.9M777.1 225.5L798.9 207.7L808.8 214.1M796.2 209.9L801.1 213.1M11.8 262.7L21.6 289.1M19.8 284.2L15.1 287.8M68.4 264.1L83.7 287.7M80.8 283.3L77.0 287.8M127.5 264.2L143.2 287.6M140.3 283.2L136.5 287.8M186.3 264.6L203.1 287.2L196.2 296.8M244.2 265.8L263.9 286.0L258.3 296.4M302.6 266.8L324.1 285.0L319.5 295.9M360.9 268.1L384.4 283.7L381.2 295.0M419.3 269.8L444.8 282.0L443.1 293.7M477.8 272.1L504.9 279.7L505.3 291.5M536.6 276.9L564.8 274.9L569.1 285.9M596.7 280.6L623.3 271.2L630.4 280.7M657.0 282.7L681.7 269.1L690.2 277.3M717.7 284.7L739.7 267.1L749.5 273.6M736.9 269.3L741.8 272.6M777.6 285.4L798.5 266.4L808.7 272.4M795.9 268.8L801.0 271.8M4.3 328.4L29.1 342.0M24.4 339.4L23.2 345.2M63.3 329.2L88.8 341.2M84.0 338.9L83.2 344.8M123.6 327.4L147.1 343.0L143.8 354.3M182.9 327.4L206.4 343.0L203.2 354.3M242.2 327.6L265.9 342.8L262.8 354.2M301.5 327.6L325.2 342.8L322.1 354.2M360.4 328.4L385.0 342.0L382.6 353.6M419.0 329.7L445.0 340.7L443.9 352.4M477.8 331.4L504.9 339.0L505.3 350.8M536.6 334.8L564.8 335.6L568.0 346.9M596.9 340.2L623.2 330.2L630.5 339.5M657.9 343.5L680.8 326.9L690.3 334.0M718.5 345.0L738.9 325.4L749.2 331.1M736.3 327.9L741.5 330.7M778.1 345.2L798.0 325.2L808.5 330.7M795.5 327.7L800.7 330.5M3.4 389.8L30.0 399.2M25.0 397.4L24.8 403.3M62.3 391.1L89.7 397.9M84.6 396.6L85.0 402.5M122.4 388.9L148.3 400.1L147.0 411.9M182.4 387.7L207.0 401.3L204.6 412.9M242.3 386.7L265.8 402.3L262.5 413.6M301.6 386.8L325.2 402.2L322.0 413.6M360.5 387.4L384.9 401.6L382.2 413.1M419.3 388.5L444.8 400.5L443.2 412.2M477.8 390.6L504.9 398.4L505.2 410.2M536.6 394.6L564.8 394.4L568.4 405.6M596.9 399.6L623.2 389.4L630.6 398.6M659.0 404.1L679.7 384.9L690.0 390.8M720.6 406.1L736.8 382.9L748.0 386.5M734.8 385.8L740.4 387.6M780.4 406.3L795.7 382.7L807.1 385.8M793.8 385.6L799.5 387.2M3.3 449.3L30.1 458.3M25.1 456.6L24.9 462.5M62.3 450.8L89.8 456.8M84.6 455.7L85.2 461.6M121.8 450.0L149.0 457.6M143.9 456.2L144.0 462.1M182.5 446.8L206.9 460.8L204.3 472.4M242.5 445.6L265.5 462.0L261.9 473.2M302.1 445.3L324.6 462.3L320.7 473.4M361.0 445.9L384.4 461.7L381.0 473.0M419.9 446.6L444.1 461.0L441.4 472.5M478.4 448.3L504.3 459.3M499.5 457.3L498.9 463.1M536.6 452.8L564.8 454.8M559.5 454.4L560.8 460.2M598.3 461.7L621.7 445.9M617.3 448.9L622.0 452.6M661.5 465.5L677.2 442.1L688.5 445.4M722.1 466.3L735.3 441.3L746.9 443.5M782.3 466.7L793.7 440.9L805.5 442.2M792.3 444.1L798.2 444.8M3.4 508.3L30.0 517.9M25.0 516.1L24.7 522.0M62.6 508.7L89.4 517.5M84.4 515.8L84.3 521.7M122.1 508.3L148.6 517.9M143.7 516.1L143.4 522.0M182.9 505.5L206.5 520.7M202.1 517.9L200.5 523.6M243.7 503.5L264.4 522.7L259.3 533.4M303.1 503.4L323.6 522.8L318.4 533.4M362.5 503.3L382.9 522.9L377.6 533.5M421.8 503.4L442.2 522.8M438.4 519.2L435.8 524.5M480.4 504.3L502.3 521.9M498.2 518.6L496.1 524.1M537.0 509.6L564.4 516.6M559.2 515.3L559.6 521.2M600.5 523.5L619.5 502.7M616.0 506.6L621.3 509.1M665.4 526.6L673.3 499.6L685.1 499.3M725.7 526.9L731.7 499.3L743.5 498.3M785.8 527.0L790.2 499.2L801.9 497.5M789.7 502.7L795.5 501.8M3.3 567.9L30.1 576.9L29.9 588.7M62.9 567.2L89.1 577.6L88.2 589.4M123.2 565.3L147.6 579.5M143.0 576.8L141.7 582.6M184.0 563.2L205.4 581.6M201.4 578.1L199.0 583.6M246.1 560.8L262.0 584.0M259.0 579.7L255.3 584.3M306.1 560.3L320.7 584.5M317.9 579.9L314.0 584.4M365.5 560.3L379.9 584.5M377.2 580.0L373.2 584.4M425.2 560.1L438.8 584.7M436.3 580.1L432.2 584.4M483.8 560.5L498.9 584.3M496.1 579.9L492.2 584.4M539.3 564.1L562.1 580.7M557.8 577.6L556.0 583.2M601.1 583.3L618.9 561.5M615.6 565.6L621.1 567.7M666.2 586.1L672.5 558.7L684.3 557.8M728.2 586.5L729.2 558.3L740.6 555.2M786.8 586.4L789.3 558.4L800.8 555.8M789.0 561.9L794.7 560.6M3.1 627.8L30.3 635.6L30.5 647.4M63.7 624.9L88.4 638.5L86.0 650.1M123.9 623.6L146.9 639.8M142.6 636.8L140.7 642.4M184.8 621.7L204.6 641.7M200.9 638.0L198.1 643.2M247.2 619.4L260.9 644.0M258.3 639.4L254.2 643.7M308.5 618.5L318.2 644.9M316.4 640.0L311.7 643.6M369.5 618.0L375.9 645.4M374.7 640.3L369.6 643.3M426.5 618.7L437.6 644.7M435.5 639.8L431.0 643.6M482.3 620.9L500.5 642.5M497.1 638.4L493.9 643.4M536.8 629.1L564.5 634.3M559.4 633.4L560.0 639.2M598.5 639.8L621.6 623.6M617.2 626.6L621.9 630.3M662.2 643.9L676.5 619.5L688.0 622.2M725.0 645.3L732.4 618.1L744.2 617.7M786.3 645.7L789.7 617.7L801.4 615.6M789.3 621.2L795.1 620.1M4.5 683.9L28.9 698.1M24.3 695.4L23.0 701.2M66.6 680.5L85.5 701.5M81.9 697.5L78.9 702.6M128.1 678.9L142.7 703.1M139.9 698.5L136.0 703.0M188.5 678.3L200.9 703.7M198.6 698.9L194.3 703.0M248.7 678.0L259.4 704.0M257.4 699.1L252.8 702.9M307.0 678.4L319.8 703.6M317.4 698.8L313.1 703.0M364.6 679.4L380.8 702.6M377.7 698.2L374.1 702.9M420.3 683.1L443.7 698.9M439.3 695.9L437.6 701.6M477.8 687.2L504.9 694.8M499.9 693.4L500.0 699.3M536.7 692.5L564.7 689.5L569.4 700.3M597.3 697.2L622.7 684.8L630.8 693.5M658.8 700.3L680.0 681.7L690.0 687.8M720.1 702.2L737.3 679.8L748.4 683.9M781.6 703.6L794.4 678.4L806.1 680.4M4.3 743.5L29.1 757.1M24.4 754.5L23.2 760.3M64.9 741.7L87.2 758.9M83.0 755.7L81.0 761.2M124.4 741.4L146.3 759.2M142.2 755.9L140.0 761.3M183.8 741.3L205.6 759.3M201.5 755.9L199.3 761.4M242.2 742.6L265.8 758.0L262.6 769.4M300.8 743.9L325.9 756.7L323.9 768.4M359.5 745.4L385.9 755.2L385.3 767.0M418.2 747.3L445.8 753.3L446.9 765.0M477.3 749.8L505.5 750.8L508.6 762.2M536.8 752.7L564.6 747.9L570.0 758.4M597.0 755.6L623.1 745.0L630.6 754.1M619.8 746.3L623.6 750.9M657.4 757.8L681.3 742.8L690.3 750.5M678.3 744.7L682.8 748.5M718.3 759.8L739.1 740.8L749.3 746.7M736.5 743.2L741.6 746.1M779.1 761.2L797.0 739.4L807.9 743.8M794.7 742.1L800.2 744.3M3.1 805.7L30.3 813.5L30.5 825.3M62.9 804.5L89.2 814.7L88.3 826.5M122.0 805.0L148.7 814.2L148.3 826.0M181.3 805.1L208.1 814.1L207.9 825.9M240.6 805.3L267.4 813.9L267.3 825.8M299.6 806.5L327.1 812.7L328.1 824.4M358.8 807.5L386.6 811.7L388.4 823.4M383.2 811.2L384.0 817.0M418.0 808.7L446.1 810.5L448.9 822.0M442.6 810.3L444.0 816.0M477.3 810.2L505.5 809.0L509.5 820.1M501.9 809.1L503.9 814.7M536.8 812.0L564.6 807.2L570.0 817.8M561.1 807.8L563.8 813.1M596.7 814.1L623.4 805.1L630.3 814.7M620.1 806.3L623.5 811.0M656.6 815.6L682.1 803.6L690.1 812.3M678.9 805.1L682.9 809.5M716.8 817.1L740.6 802.1L749.6 809.8M737.7 804.0L742.1 807.8M776.9 818.3L799.1 800.9L808.9 807.6M796.3 803.1L801.2 806.4" fill="none" stroke="#000" stroke-width="2.0" stroke-linecap="round" stroke-linejoin="round"/><circle cx="550.7" cy="98.0" r="4.4" fill="none" stroke="#000" stroke-width="2.05"/><circle cx="610.0" cy="98.0" r="4.4" fill="none" stroke="#000" stroke-width="2.05"/>
<circle cx="407.7" cy="432.1" r="8.7" fill="#000"/>
</g>
<rect x="12.5" y="37.5" width="791.0" height="790.0" fill="none" stroke="#000" stroke-width="1.2"/>
<text x="406.5" y="27" font-size="20" text-anchor="middle" textLength="181" lengthAdjust="spacing" fill="#000">2025090400 F072</text>
<text x="76.0" y="851.3" font-size="19.4" text-anchor="middle" textLength="64.5" lengthAdjust="spacing" fill="#808080">150°W</text>
<text x="194.7" y="851.3" font-size="19.4" text-anchor="middle" textLength="64.5" lengthAdjust="spacing" fill="#808080">147°W</text>
<text x="313.3" y="851.3" font-size="19.4" text-anchor="middle" textLength="64.5" lengthAdjust="spacing" fill="#808080">144°W</text>
<text x="432.0" y="851.3" font-size="19.4" text-anchor="middle" textLength="64.5" lengthAdjust="spacing" fill="#808080">141°W</text>
<text x="550.7" y="851.3" font-size="19.4" text-anchor="middle" textLength="64.5" lengthAdjust="spacing" fill="#808080">138°W</text>
<text x="669.3" y="851.3" font-size="19.4" text-anchor="middle" textLength="64.5" lengthAdjust="spacing" fill="#808080">135°W</text>
<text x="788.0" y="851.3" font-size="19.4" text-anchor="middle" textLength="64.5" lengthAdjust="spacing" fill="#808080">132°W</text>
<text x="811.5" y="716.9" font-size="19.4" textLength="35.5" lengthAdjust="spacing" fill="#808080">9°N</text>
<text x="811.5" y="598.3" font-size="19.4" textLength="47.8" lengthAdjust="spacing" fill="#808080">12°N</text>
<text x="811.5" y="479.7" font-size="19.4" textLength="47.8" lengthAdjust="spacing" fill="#808080">15°N</text>
<text x="811.5" y="361.1" font-size="19.4" textLength="47.8" lengthAdjust="spacing" fill="#808080">18°N</text>
<text x="811.5" y="242.5" font-size="19.4" textLength="47.8" lengthAdjust="spacing" fill="#808080">21°N</text>
<text x="811.5" y="123.9" font-size="19.4" textLength="47.8" lengthAdjust="spacing" fill="#808080">24°N</text>
<rect x="47.70" y="867.5" width="65.68" height="17.7" fill="#9932CC"/>
<rect x="113.08" y="867.5" width="65.68" height="17.7" fill="#00008B"/>
<rect x="178.46" y="867.5" width="65.68" height="17.7" fill="#3A5FCD"/>
<rect x="243.84" y="867.5" width="65.68" height="17.7" fill="#00BFFF"/>
<rect x="309.22" y="867.5" width="65.68" height="17.7" fill="#B0E2FF"/>
<rect x="374.60" y="867.5" width="65.68" height="17.7" fill="#FFFFFF"/>
<rect x="439.98" y="867.5" width="65.68" height="17.7" fill="#FFEC8B"/>
<rect x="505.36" y="867.5" width="65.68" height="17.7" fill="#FFA500"/>
<rect x="570.74" y="867.5" width="65.68" height="17.7" fill="#FF4500"/>
<rect x="636.12" y="867.5" width="65.68" height="17.7" fill="#B22222"/>
<rect x="701.50" y="867.5" width="65.68" height="17.7" fill="#FF82AB"/>
<path d="M49.2 867.5 L12.3 876.4 L49.2 885.2Z" fill="#9932CC"/>
<path d="M765.4 867.5 L802.9 876.4 L765.4 885.2Z" fill="#FF82AB"/>
<path d="M12.3 876.4 L47.7 867.5 L766.9 867.5 L802.9 876.4 L766.9 885.2 L47.7 885.2Z" fill="none" stroke="#000" stroke-width="1.1" stroke-linejoin="miter"/>
<line x1="113.1" y1="885.2" x2="113.1" y2="890.5" stroke="#000" stroke-width="1.1"/>
<text x="113.1" y="909.3" font-size="15.6" text-anchor="middle" textLength="47.0" lengthAdjust="spacing" fill="#000">−0.90</text>
<line x1="178.5" y1="885.2" x2="178.5" y2="890.5" stroke="#000" stroke-width="1.1"/>
<text x="178.5" y="909.3" font-size="15.6" text-anchor="middle" textLength="47.0" lengthAdjust="spacing" fill="#000">−0.72</text>
<line x1="243.8" y1="885.2" x2="243.8" y2="890.5" stroke="#000" stroke-width="1.1"/>
<text x="243.8" y="909.3" font-size="15.6" text-anchor="middle" textLength="47.0" lengthAdjust="spacing" fill="#000">−0.54</text>
<line x1="309.2" y1="885.2" x2="309.2" y2="890.5" stroke="#000" stroke-width="1.1"/>
<text x="309.2" y="909.3" font-size="15.6" text-anchor="middle" textLength="47.0" lengthAdjust="spacing" fill="#000">−0.36</text>
<line x1="374.6" y1="885.2" x2="374.6" y2="890.5" stroke="#000" stroke-width="1.1"/>
<text x="374.6" y="909.3" font-size="15.6" text-anchor="middle" textLength="47.0" lengthAdjust="spacing" fill="#000">−0.18</text>
<line x1="440.0" y1="885.2" x2="440.0" y2="890.5" stroke="#000" stroke-width="1.1"/>
<text x="440.0" y="909.3" font-size="15.6" text-anchor="middle" textLength="34.5" lengthAdjust="spacing" fill="#000">0.18</text>
<line x1="505.4" y1="885.2" x2="505.4" y2="890.5" stroke="#000" stroke-width="1.1"/>
<text x="505.4" y="909.3" font-size="15.6" text-anchor="middle" textLength="34.5" lengthAdjust="spacing" fill="#000">0.36</text>
<line x1="570.7" y1="885.2" x2="570.7" y2="890.5" stroke="#000" stroke-width="1.1"/>
<text x="570.7" y="909.3" font-size="15.6" text-anchor="middle" textLength="34.5" lengthAdjust="spacing" fill="#000">0.54</text>
<line x1="636.1" y1="885.2" x2="636.1" y2="890.5" stroke="#000" stroke-width="1.1"/>
<text x="636.1" y="909.3" font-size="15.6" text-anchor="middle" textLength="34.5" lengthAdjust="spacing" fill="#000">0.72</text>
<line x1="701.5" y1="885.2" x2="701.5" y2="890.5" stroke="#000" stroke-width="1.1"/>
<text x="701.5" y="909.3" font-size="15.6" text-anchor="middle" textLength="34.5" lengthAdjust="spacing" fill="#000">0.90</text>
</svg></body></html>
